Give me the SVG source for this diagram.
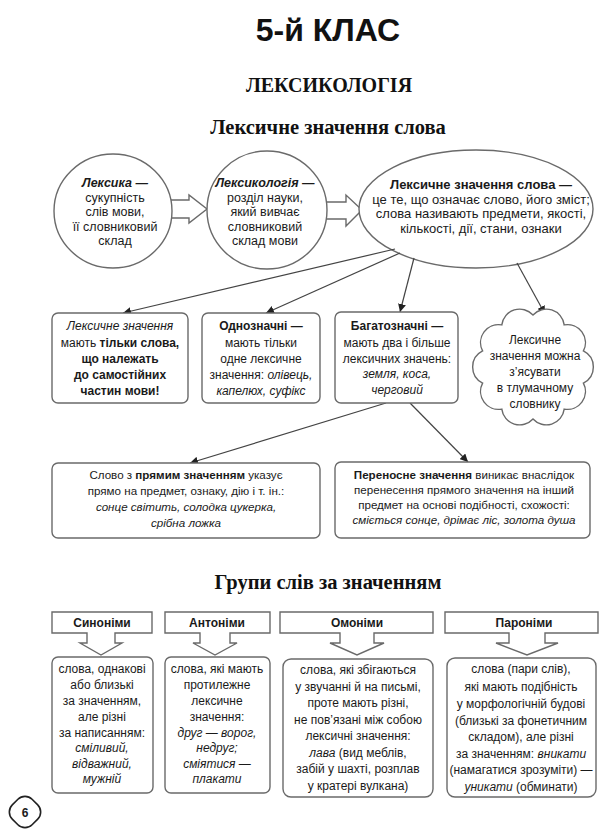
<svg xmlns="http://www.w3.org/2000/svg" width="599" height="837" viewBox="0 0 599 837">
<style>
.t{font-family:"Liberation Sans",Arial,sans-serif;font-size:12px;fill:#1a1a1a;text-anchor:middle}
.c{font-size:12.5px}
.e{font-size:13px}
.r3{font-size:11.6px}
.b{font-weight:bold}
.i{font-style:italic}
.shape{fill:#fff;stroke:#6a6a6a;stroke-width:1.4}
.conn{stroke:#444;stroke-width:1.2;fill:none;marker-end:url(#ah)}
.h1{font-family:"Liberation Sans",Arial,sans-serif;font-weight:bold;font-size:32px;fill:#111;text-anchor:middle}
.h2{font-family:"Liberation Serif","Times New Roman",serif;font-weight:bold;fill:#111;text-anchor:middle}
</style>
<defs>
<marker id="ah" markerUnits="userSpaceOnUse" markerWidth="9" markerHeight="8" refX="8" refY="4" orient="auto">
<path d="M0,0 L8,4 L0,8 Z" fill="#222"/>
</marker>
</defs>
<rect width="599" height="837" fill="#fff"/>

<g id="titles">
<text class="h1" x="328" y="41">5-й КЛАС</text>
<text class="h2" x="329" y="92" font-size="20">ЛЕКСИКОЛОГІЯ</text>
<text class="h2" x="328" y="134" font-size="20.5">Лексичне значення слова</text>
<text class="h2" x="328" y="589" font-size="20.5">Групи слів за значенням</text>
</g>

<g id="block-arrows">
<polygon class="shape" points="165,200 189,200 189,195 207,209 189,223 189,218 165,218"/>
<polygon class="shape" points="320,202 346,202 346,195 362,210 346,226 346,219 320,219"/>
</g>

<g id="node-leksyka">
<ellipse class="shape" cx="113" cy="211" rx="59" ry="57"/>
<text class="t c" x="115" y="187"><tspan class="b i">Лексика —</tspan></text>
<text class="t c" x="115" y="201.5">сукупність</text>
<text class="t c" x="115" y="216">слів мови,</text>
<text class="t c" x="115" y="230.5">її словниковий</text>
<text class="t c" x="115" y="245">склад</text>
</g>

<g id="node-leksykolohiia">
<ellipse class="shape" cx="267" cy="210" rx="60" ry="59"/>
<text class="t c" x="265" y="187"><tspan class="b i">Лексикологія</tspan><tspan class="b"> —</tspan></text>
<text class="t c" x="265" y="201.5">розділ науки,</text>
<text class="t c" x="265" y="216">який вивчає</text>
<text class="t c" x="265" y="230.5">словниковий</text>
<text class="t c" x="265" y="245">склад мови</text>
</g>

<g id="node-znachennia">
<ellipse class="shape" cx="476" cy="209" rx="117" ry="59"/>
<text class="t e" x="481" y="189"><tspan class="b">Лексичне значення слова —</tspan></text>
<text class="t e" x="481" y="203.5">це те, що означає слово, його зміст;</text>
<text class="t e" x="481" y="218">слова називають предмети, якості,</text>
<text class="t e" x="481" y="232.5">кількості, дії, стани, ознаки</text>
</g>

<g id="connectors">
<path class="conn" d="M395,249 L123,313"/>
<path class="conn" d="M400,253 L266,313"/>
<path class="conn" d="M414,258 L400,312"/>
<path class="conn" d="M517,263 L545,314"/>
<path class="conn" d="M386,403 L190,463"/>
<path class="conn" d="M410,403 L468,462"/>
</g>

<g id="node-tilky-slova">
<rect class="shape" x="52" y="313" width="136" height="90" rx="6"/>
<text class="t" x="120" y="330"><tspan class="i">Лексичне значення</tspan></text>
<text class="t" x="120" y="346.5">мають <tspan class="b">тільки слова,</tspan></text>
<text class="t" x="120" y="363"><tspan class="b">що належать</tspan></text>
<text class="t" x="120" y="379"><tspan class="b">до самостійних</tspan></text>
<text class="t" x="120" y="395"><tspan class="b">частин мови!</tspan></text>
</g>

<g id="node-odnoznachni">
<rect class="shape" x="202" y="313" width="118" height="90" rx="6"/>
<text class="t" x="261" y="330"><tspan class="b">Однозначні —</tspan></text>
<text class="t" x="261" y="346.5">мають тільки</text>
<text class="t" x="261" y="363">одне лексичне</text>
<text class="t" x="261" y="379">значення: <tspan class="i">олівець,</tspan></text>
<text class="t" x="261" y="395"><tspan class="i">капелюх, суфікс</tspan></text>
</g>

<g id="node-bahatoznachni">
<rect class="shape" x="335" y="312" width="123" height="91" rx="6"/>
<text class="t" x="397" y="330"><tspan class="b">Багатозначні —</tspan></text>
<text class="t" x="397" y="346.5">мають два і більше</text>
<text class="t" x="397" y="362.5">лексичних значень:</text>
<text class="t" x="397" y="378"><tspan class="i">земля, коса,</tspan></text>
<text class="t" x="397" y="394"><tspan class="i">черговий</tspan></text>
</g>

<g id="node-cloud">
<path class="shape" d="M533,315 A18,18 0 0 1 564.2,324.9 A18,18 0 0 1 583.4,350.9 A18,18 0 0 1 583.4,383.1 A18,18 0 0 1 564.2,409.1 A18,18 0 0 1 533,419 A18,18 0 0 1 501.8,409.1 A18,18 0 0 1 482.6,383.1 A18,18 0 0 1 482.6,350.9 A18,18 0 0 1 501.8,324.9 A18,18 0 0 1 533,315 Z"/>
<text class="t" x="535" y="344">Лексичне</text>
<text class="t" x="535" y="360">значення можна</text>
<text class="t" x="535" y="376">з’ясувати</text>
<text class="t" x="535" y="392">в тлумачному</text>
<text class="t" x="535" y="408">словнику</text>
</g>

<g id="node-priame">
<rect class="shape" x="52" y="463" width="268" height="75" rx="6"/>
<text class="t r3" x="186" y="479">Слово з <tspan class="b">прямим значенням</tspan> указує</text>
<text class="t r3" x="186" y="495">прямо на предмет, ознаку, дію і т. ін.:</text>
<text class="t r3" x="186" y="511"><tspan class="i">сонце світить, солодка цукерка,</tspan></text>
<text class="t r3" x="186" y="527"><tspan class="i">срібна ложка</tspan></text>
</g>

<g id="node-perenosne">
<rect class="shape" x="335" y="462" width="255" height="76" rx="6"/>
<text class="t r3" x="464" y="479"><tspan class="b">Переносне значення</tspan> виникає внаслідок</text>
<text class="t r3" x="464" y="494">перенесення прямого значення на інший</text>
<text class="t r3" x="464" y="509">предмет на основі подібності, схожості:</text>
<text class="t r3" x="464" y="524"><tspan class="i">сміється сонце, дрімає ліс, золота душа</tspan></text>
</g>

<g id="node-synonimy">
<path class="shape" d="M52,612 H152 V633 H115 V643 H122 L101,655 L80,643 H87 V633 H52 Z"/>
<text class="t b" x="102" y="627">Синоніми</text>
<rect class="shape" x="52" y="657" width="101" height="136" rx="6"/>
<text class="t" x="102" y="673">слова, однакові</text>
<text class="t" x="102" y="689">або близькі</text>
<text class="t" x="102" y="705">за значенням,</text>
<text class="t" x="102" y="721">але різні</text>
<text class="t" x="102" y="737">за написанням:</text>
<text class="t" x="102" y="752"><tspan class="i">сміливий,</tspan></text>
<text class="t" x="102" y="768"><tspan class="i">відважний,</tspan></text>
<text class="t" x="102" y="783"><tspan class="i">мужній</tspan></text>
</g>

<g id="node-antonimy">
<path class="shape" d="M165,612 H270 V633 H230 V643 H237 L215,655 L193,643 H200 V633 H165 Z"/>
<text class="t b" x="217" y="627">Антоніми</text>
<rect class="shape" x="165" y="657" width="105" height="136" rx="6"/>
<text class="t" x="217" y="673">слова, які мають</text>
<text class="t" x="217" y="689">протилежне</text>
<text class="t" x="217" y="705">лексичне</text>
<text class="t" x="217" y="721">значення:</text>
<text class="t" x="217" y="737"><tspan class="i">друг — ворог,</tspan></text>
<text class="t" x="217" y="752"><tspan class="i">недруг;</tspan></text>
<text class="t" x="217" y="768"><tspan class="i">сміятися —</tspan></text>
<text class="t" x="217" y="783"><tspan class="i">плакати</tspan></text>
</g>

<g id="node-omonimy">
<path class="shape" d="M280,612 H433 V633 H374 V643 H384 L357,655 L330,643 H340 V633 H280 Z"/>
<text class="t b" x="357" y="627">Омоніми</text>
<rect class="shape" x="283" y="659" width="150" height="138" rx="8"/>
<text class="t" x="358" y="674">слова, які збігаються</text>
<text class="t" x="358" y="690.5">у звучанні й на письмі,</text>
<text class="t" x="358" y="707">проте мають різні,</text>
<text class="t" x="358" y="723.5">не пов’язані між собою</text>
<text class="t" x="358" y="740">лексичні значення:</text>
<text class="t" x="358" y="756.5"><tspan class="i">лава</tspan> (вид меблів,</text>
<text class="t" x="358" y="773">забій у шахті, розплав</text>
<text class="t" x="358" y="789.5">у кратері вулкана)</text>
</g>

<g id="node-paronimy">
<path class="shape" d="M445,612 H598 V633 H545 V643 H558 L527,655 L496,643 H509 V633 H445 Z"/>
<text class="t b" x="524" y="627">Пароніми</text>
<rect class="shape" x="447" y="658" width="149" height="139" rx="8"/>
<text class="t" x="521" y="673">слова (пари слів),</text>
<text class="t" x="521" y="690.5">які мають подібність</text>
<text class="t" x="521" y="707.5">у морфологічній будові</text>
<text class="t" x="521" y="724.5">(близькі за фонетичним</text>
<text class="t" x="521" y="741">складом), але різні</text>
<text class="t" x="521" y="757.5">за значенням: <tspan class="i">вникати</tspan></text>
<text class="t" x="521" y="774">(намагатися зрозуміти) —</text>
<text class="t" x="521" y="790.5"><tspan class="i">уникати</tspan> (обминати)</text>
</g>

<g id="page-number">
<rect x="-14" y="-14" width="28" height="28" rx="10" fill="#fff" stroke="#222" stroke-width="1.6" transform="translate(25,812) rotate(45)"/>
<text class="t b" x="25" y="817" font-size="13">6</text>
</g>
</svg>
